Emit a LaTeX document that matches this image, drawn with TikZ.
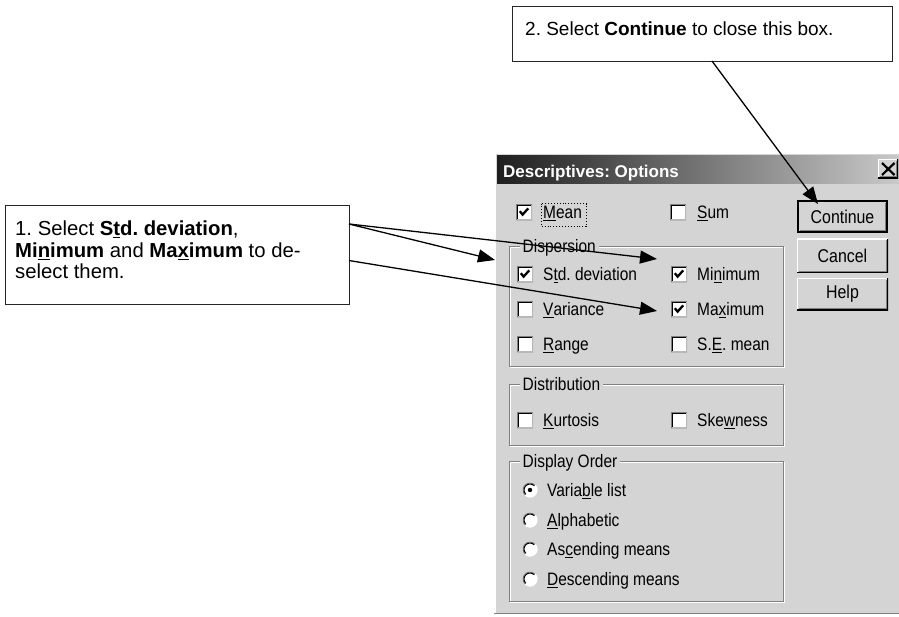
\documentclass[tikz,border=0pt]{standalone}
\usepackage{fontspec}
\setmainfont{Liberation Sans}
\newfontfamily\dlgfont[FakeStretch=0.86]{Liberation Sans}
\usetikzlibrary{arrows.meta}
\definecolor{dlgbg}{gray}{0.83}
\definecolor{shadowgray}{gray}{0.5}
\definecolor{lightedge}{gray}{0.72}
\newcommand{\ak}[1]{\underline{#1}}
\frenchspacing
\tikzset{
  dtxt/.style={font=\dlgfont\fontsize{18}{20}\selectfont, inner sep=0pt, anchor=base west, text=black},
  callout/.style={draw=black!85, line width=1.3pt, fill=white, inner sep=0pt, anchor=north west},
  arr/.style={draw=black, line width=1.3pt, -{Triangle[length=17pt,width=13pt]}},
  cbframe/.style={
    path picture={
      \fill[white] (path picture bounding box.south west) rectangle (path picture bounding box.north east);
      \draw[lightedge, line width=2.4pt] (path picture bounding box.south west) -- (path picture bounding box.south east) -- (path picture bounding box.north east);
      \draw[shadowgray, line width=2pt] (path picture bounding box.south west) -- (path picture bounding box.north west) -- (path picture bounding box.north east);
      \draw[black, line width=1pt] ([xshift=1.5pt,yshift=1.5pt]path picture bounding box.south west) -- ([xshift=1.5pt,yshift=-1.5pt]path picture bounding box.north west) -- ([xshift=-1.5pt,yshift=-1.5pt]path picture bounding box.north east);
      #1
    }},
  cb/.style={fill=white, minimum size=16pt, inner sep=0pt, shape=rectangle, cbframe={}},
  cbk/.style={fill=white, minimum size=16pt, inner sep=0pt, shape=rectangle,
    cbframe={\draw[black, line width=2.3pt] ([xshift=-4.2pt,yshift=0.8pt]path picture bounding box.center) -- ([xshift=-1.4pt,yshift=-2.6pt]path picture bounding box.center) -- ([xshift=4.2pt,yshift=3.6pt]path picture bounding box.center);}},
  radio/.style={circle, fill=white, minimum size=15pt, inner sep=0pt,
    path picture={
      \fill[white] (path picture bounding box.center) circle[radius=8pt];
      \draw[shadowgray, line width=2pt] ([shift={(45:7.5pt)}]path picture bounding box.center) arc[start angle=45, end angle=225, radius=7.5pt];
      \draw[black, line width=1pt] ([shift={(45:6pt)}]path picture bounding box.center) arc[start angle=45, end angle=225, radius=6pt];
    }},
  btn/.style={fill=dlgbg, inner sep=0pt, minimum width=91pt,
    font=\dlgfont\fontsize{18.5}{20}\selectfont,
    path picture={
      \draw[white, line width=2pt] (path picture bounding box.south west) -- (path picture bounding box.north west) -- (path picture bounding box.north east);
      \draw[black, line width=2pt] (path picture bounding box.south west) -- (path picture bounding box.south east) -- (path picture bounding box.north east);
      \draw[shadowgray, line width=1pt] ([xshift=1.5pt,yshift=1.5pt]path picture bounding box.south west) -- ([xshift=-1.5pt,yshift=1.5pt]path picture bounding box.south east) -- ([xshift=-1.5pt,yshift=-1.5pt]path picture bounding box.north east);
    }},
  grplabel/.style={dtxt, fill=dlgbg, inner xsep=3pt, inner ysep=1pt},
}
\begin{document}
\begin{tikzpicture}[x=1pt,y=-1pt]
\useasboundingbox (0,0) rectangle (899,616);
\fill[white] (0,0) rectangle (899,616);

% dialog frame
\fill[dlgbg] (494,152) rectangle (905,614);
\draw[white, line width=1.5pt] (494.75,614) -- (494.75,152.75) -- (905,152.75);
\draw[shadowgray, line width=1.5pt] (494,613.25) -- (905,613.25);
\shade[left color=black!88, right color=black!20] (497,155) rectangle (905,183);
\node[anchor=base west, inner sep=0pt, text=white, font=\fontsize{17}{20}\selectfont\bfseries] (title) at (503,177) {Descriptives: Options};
\node[btn, minimum width=20pt, minimum height=19pt] (xbtn) at (888,168.5) {};
\draw[black, line width=2.2pt] (882,163) -- (894.5,175) (882,175) -- (894.5,163);

% buttons
\node[btn, minimum width=89pt, minimum height=31pt, draw=black, line width=1.2pt] (cont) at (842.5,216.5) {Continue};
\node[btn, minimum height=34pt] (canc) at (842.5,255.5) {Cancel};
\node[btn, minimum height=32pt] (help) at (842.5,294) {Help};

% Mean / Sum
\node[cbk] (cmean) at (524,212) {};
\node[dtxt] (lmean) at (543,218.5) {\ak{M}ean};
\draw[black, dotted, line width=0.9pt] (541.5,203.5) rectangle (586,226.5);
\node[cb] (csum) at (678,212) {};
\node[dtxt] (lsum) at (697,218.5) {\ak{S}um};

% Dispersion group
\draw[white] (510,247) rectangle (784,367);
\draw[shadowgray] (509,246) rectangle (783,366);
\node[grplabel] (gdisp) at (519.5,252.5) {Dispersion};
\node[cbk] (cstd) at (525,274) {};
\node[dtxt] (lstd) at (543,280.5) {S\ak{t}d. deviation};
\node[cbk] (cmin) at (679,274) {};
\node[dtxt] (lmin) at (697,280.5) {Mi\ak{n}imum};
\node[cb] (cvar) at (525,309) {};
\node[dtxt] (lvar) at (543,315.5) {\ak{V}ariance};
\node[cbk] (cmax) at (679,309) {};
\node[dtxt] (lmax) at (697,315.5) {Ma\ak{x}imum};
\node[cb] (crange) at (525,344) {};
\node[dtxt] (lrange) at (543,350.5) {\ak{R}ange};
\node[cb] (cse) at (679,344) {};
\node[dtxt] (lse) at (697,350.5) {S.\ak{E}. mean};

% Distribution group
\draw[white] (510,385) rectangle (784,446);
\draw[shadowgray] (509,384) rectangle (783,445);
\node[grplabel] (gdist) at (519.5,390.5) {Distribution};
\node[cb] (ckurt) at (525,420) {};
\node[dtxt] (lkurt) at (543,426.5) {\ak{K}urtosis};
\node[cb] (cskew) at (679,420) {};
\node[dtxt] (lskew) at (697,426.5) {Ske\ak{w}ness};

% Display order group
\draw[white] (510,462) rectangle (784,602);
\draw[shadowgray] (509,461) rectangle (783,601);
\node[grplabel] (gord) at (519.5,467.5) {Display Order};
\node[radio] (rvar) at (530,490) {};
\fill[black] (rvar.center) circle[radius=2.2pt];
\node[dtxt] (lrvar) at (547,496.5) {Varia\ak{b}le list};
\node[radio] (ralpha) at (530,520) {};
\node[dtxt] (lralpha) at (547,526.5) {\ak{A}lphabetic};
\node[radio] (rasc) at (530,549) {};
\node[dtxt] (lrasc) at (547,555.5) {As\ak{c}ending means};
\node[radio] (rdesc) at (530,579) {};
\node[dtxt] (lrdesc) at (547,585.5) {\ak{D}escending means};

% callouts
\node[callout, minimum width=344pt, minimum height=99pt] (b1) at (5,205) {};
\node[anchor=north west, inner sep=0pt, align=left, font=\fontsize{20.3}{21.5}\selectfont] (b1t) at (15,221) {1. Select \textbf{S\ak{t}d. deviation},\\\textbf{Mi\ak{n}imum} and \textbf{Ma\ak{x}imum} to de-\\select them.};
\node[callout, minimum width=380pt, minimum height=55pt] (b2) at (512,6) {};
\node[anchor=base west, inner sep=0pt, font=\fontsize{19}{21}\selectfont] (b2t) at (525,35) {2. Select \textbf{Continue} to close this box.};

% connectors
\coordinate (s1) at (349,224);
\coordinate (s2) at (349,260.5);
\coordinate (s3) at (712,61);
\coordinate (tstd) at (495,260);
\coordinate (tmin) at (657,259);
\coordinate (tmax) at (657,311);
\coordinate (tcont) at (818,204);
\draw[arr] (s1) -- (tmin);
\draw[arr] (s1) -- (tstd);
\draw[arr] (s2) -- (tmax);
\draw[arr] (s3) -- (tcont);
\end{tikzpicture}
\end{document}
